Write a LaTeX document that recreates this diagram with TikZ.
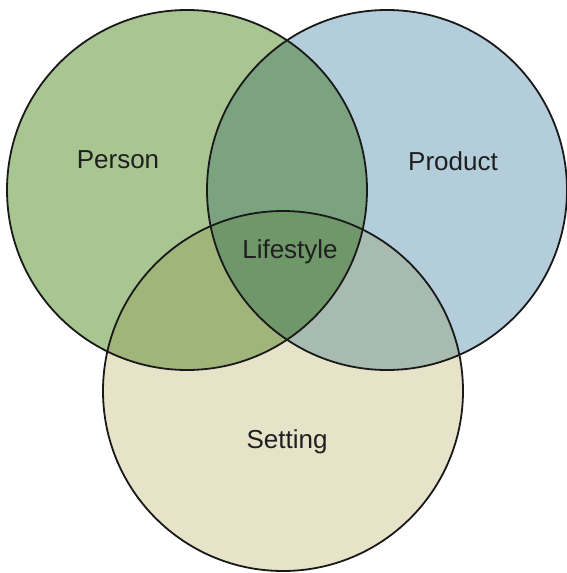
\documentclass[tikz,border=0pt]{standalone}
\usepackage{fontspec}
\setmainfont{Liberation Sans}
\definecolor{personcol}{HTML}{A8C592}
\definecolor{productcol}{HTML}{B4CDDB}
\definecolor{settingcol}{HTML}{E6E3C9}
\definecolor{pprodcol}{HTML}{7BA380}
\definecolor{psetcol}{HTML}{A0B57A}
\definecolor{qsetcol}{HTML}{A8BBB0}
\definecolor{lifecol}{HTML}{6F9769}
\tikzset{
    ring/.style={draw=black!90, line width=1.8pt},
    setlabel/.style={font=\fontsize{26}{31}\selectfont, text=black!88}
}
\begin{document}
\begin{tikzpicture}[x=1pt, y=-1pt]
        \useasboundingbox (0, 0) rectangle (566, 573);
        % Centres
        \coordinate (person) at (187, 190);
        \coordinate (product) at (387, 190);
        \coordinate (setting) at (283, 391);
        \def\rad{180}
        % Plain fills
        \fill[personcol] (person) circle (\rad);
        \fill[productcol] (product) circle (\rad);
        \fill[settingcol] (setting) circle (\rad);
        % Overlaps
        \begin{scope}
            \clip (person) circle (\rad);
            \fill[pprodcol] (product) circle (\rad);
            \fill[psetcol] (setting) circle (\rad);
        \end{scope}
        \begin{scope}
            \clip (product) circle (\rad);
            \fill[qsetcol] (setting) circle (\rad);
            \clip (person) circle (\rad);
            \fill[lifecol] (setting) circle (\rad);
        \end{scope}
        % Outlines
        \draw[ring] (person) circle (\rad);
        \draw[ring] (product) circle (\rad);
        \draw[ring] (setting) circle (\rad);
        % Labels
        \node[setlabel] (personlbl) at (118, 160) {Person};
        \node[setlabel] (productlbl) at (453, 161) {Product};
        \node[setlabel] (lifelbl) at (290, 252) {Lifestyle};
        \node[setlabel] (settinglbl) at (287, 442) {Setting};
    \end{tikzpicture}
\end{document}
